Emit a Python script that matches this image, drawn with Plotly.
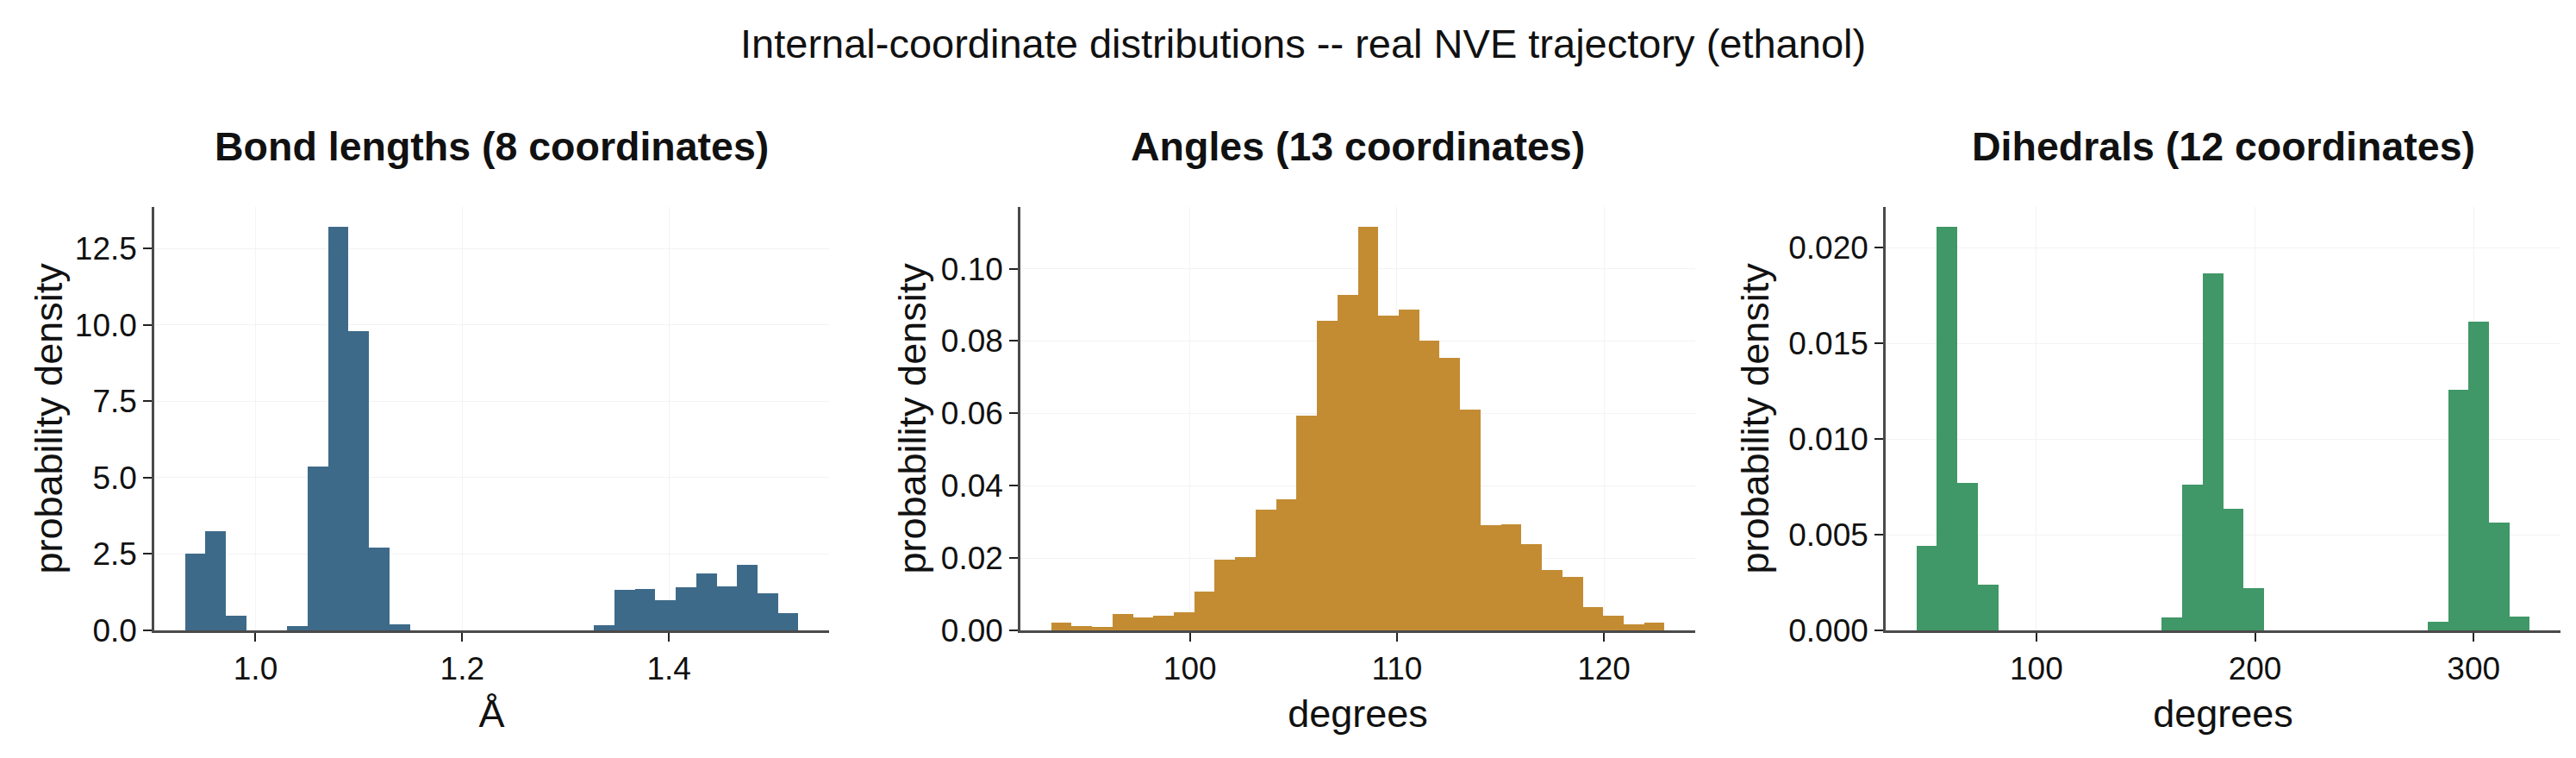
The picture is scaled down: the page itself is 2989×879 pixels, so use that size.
import numpy as np
import plotly.graph_objects as go

# ---------------- data ----------------
bond_range = [0.9317, 1.5253]          # histogram span (Å), 30 bins
bond_density = [2.50, 3.24, 0.47, 0.0, 0.0, 0.14, 5.36, 13.20, 9.80, 2.71,
                0.19, 0.0, 0.0, 0.0, 0.0, 0.0, 0.0, 0.0, 0.0, 0.0,
                0.16, 1.32, 1.35, 0.98, 1.40, 1.86, 1.43, 2.14, 1.21, 0.56]

angle_range = [93.29, 122.93]          # degrees, 30 bins
angle_density = [0.00205, 0.0012, 0.00085, 0.00444, 0.0035, 0.0040, 0.00495,
                 0.01067, 0.01954, 0.0202, 0.0334, 0.0363, 0.0594, 0.0855,
                 0.0927, 0.1115, 0.0871, 0.0886, 0.0802, 0.0754, 0.0611,
                 0.0291, 0.0294, 0.0238, 0.01664, 0.01476, 0.0064, 0.0040,
                 0.00162, 0.00205]

dihedral_range = [45.1, 325.7]         # degrees, 30 bins
dihedral_density = [0.00442, 0.02108, 0.00771, 0.0024, 0.0, 0.0, 0.0, 0.0,
                    0.0, 0.0, 0.0, 0.0, 0.00066, 0.00761, 0.01865, 0.00635,
                    0.00219, 0.0, 0.0, 0.0, 0.0, 0.0, 0.0, 0.0, 0.0,
                    0.00044, 0.01258, 0.01615, 0.00563, 0.00071]

panel_titles = ["Bond lengths (8 coordinates)",
                "Angles (13 coordinates)",
                "Dihedrals (12 coordinates)"]
x_titles = ["Å", "degrees", "degrees"]
y_title = "probability density"
suptitle = "Internal-coordinate distributions -- real NVE trajectory (ethanol)"

bond_xticks = [1.0, 1.2, 1.4]
angle_xticks = [100, 110, 120]
dihedral_xticks = [100, 200, 300]
bond_yticks = [0.0, 2.5, 5.0, 7.5, 10.0, 12.5]
angle_yticks = [0.00, 0.02, 0.04, 0.06, 0.08, 0.10]
dihedral_yticks = [0.000, 0.005, 0.010, 0.015, 0.020]
ytick_formats = [".1f", ".2f", ".3f"]

colors = ["#3e6a89", "#c38c33", "#409767"]

# ---------------- layout geometry ----------------
W, H = 2989, 879
x_domains = [(179 / W, 962 / W), (1184 / W, 1967 / W), (2188 / W, 2971 / W)]
y_domain = (1 - 731 / H, 1 - 240 / H)
ytitle_x = [56 / W, 1058 / W, 2036 / W]

FONT = "Liberation Sans, Arial, Helvetica, sans-serif"

fig = go.Figure()

panels = [
    (bond_range, bond_density, bond_xticks, bond_yticks),
    (angle_range, angle_density, angle_xticks, angle_yticks),
    (dihedral_range, dihedral_density, dihedral_xticks, dihedral_yticks),
]

annotations = []
for i, (rng, dens, xt, yt) in enumerate(panels):
    n = len(dens)
    edges = np.linspace(rng[0], rng[1], n + 1)
    centers = 0.5 * (edges[:-1] + edges[1:])
    bw = edges[1] - edges[0]
    ax = "" if i == 0 else str(i + 1)
    fig.add_trace(go.Bar(
        x=centers, y=dens, width=bw,
        marker=dict(color=colors[i], line=dict(width=0)),
        xaxis="x" + ax, yaxis="y" + ax, showlegend=False,
        hovertemplate="%{x}<br>%{y}<extra></extra>",
    ))
    span = rng[1] - rng[0]
    xr = [rng[0] - 0.05 * span, rng[1] + 0.05 * span]
    yr = [0, max(dens) * 1.05]
    common = dict(
        showline=True, linecolor="#4a4a4a", linewidth=2.5,
        ticks="outside", ticklen=10, tickwidth=2, tickcolor="#222222",
        showgrid=True, gridcolor="#f3f3f3", gridwidth=1,
        zeroline=False, automargin=False,
        tickfont=dict(family=FONT, size=37, color="#111111"),
        mirror=False,
    )
    fig.layout["xaxis" + ax] = dict(
        common, domain=list(x_domains[i]), range=xr,
        tickvals=xt, ticktext=[("%g" % v) if i else "%.1f" % v for v in xt],
        anchor="y" + ax,
        title=dict(text=x_titles[i], standoff=17,
                   font=dict(family=FONT, size=45, color="#111111")),
    )
    fig.layout["yaxis" + ax] = dict(
        common, domain=list(y_domain), range=yr,
        tickvals=yt, tickformat=ytick_formats[i],
        anchor="x" + ax,
    )
    annotations.append(dict(
        text=y_title, xref="paper", yref="paper",
        x=ytitle_x[i], y=(y_domain[0] + y_domain[1]) / 2,
        xanchor="center", yanchor="middle", textangle=-90, showarrow=False,
        font=dict(family=FONT, size=45, color="#111111"),
    ))
    annotations.append(dict(
        text="<b>%s</b>" % panel_titles[i], xref="paper", yref="paper",
        x=(x_domains[i][0] + x_domains[i][1]) / 2, y=1 - 170 / H,
        xanchor="center", yanchor="middle", showarrow=False,
        font=dict(family=FONT, size=46.5, color="#111111"),
    ))

annotations.append(dict(
    text=suptitle, xref="paper", yref="paper",
    x=1512 / W, y=1 - 51 / H, xanchor="center", yanchor="middle",
    showarrow=False, font=dict(family=FONT, size=47, color="#111111"),
))

fig.update_layout(
    width=W, height=H,
    margin=dict(l=0, r=0, t=0, b=0),
    paper_bgcolor="white", plot_bgcolor="white",
    bargap=0, annotations=annotations,
    font=dict(family=FONT, color="#111111"),
)

fig.write_html("out.html", config={"displayModeBar": False})
